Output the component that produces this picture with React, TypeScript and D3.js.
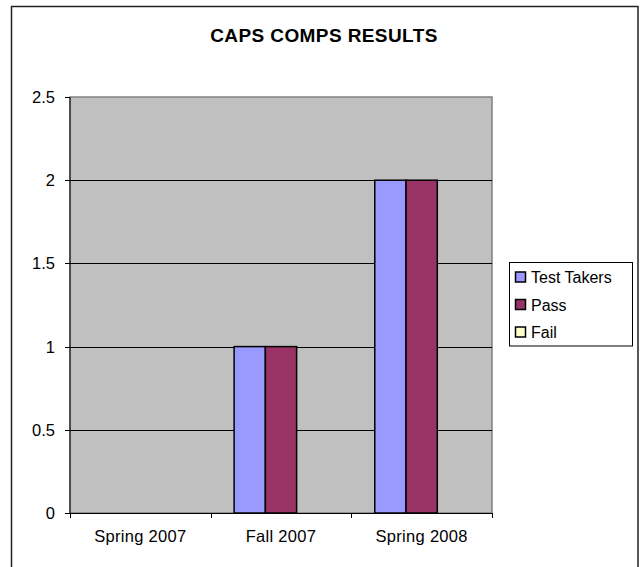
import React from "react";
import * as d3 from "d3";

const categories = ["Spring 2007", "Fall 2007", "Spring 2008"];
const seriesNames = ["Test Takers", "Pass", "Fail"];
const testTakers = [0, 1, 2];
const pass = [0, 1, 2];
const fail = [0, 0, 0];
const seriesColors = ["#9999FF", "#993366", "#FFFFCC"];
const yTicks = [0, 0.5, 1, 1.5, 2, 2.5];
const title = "CAPS COMPS RESULTS";

export default function App() {
  const W = 640, H = 567;
  const left = 70, right = 492, top = 97, bottom = 513;
  const series = [testTakers, pass, fail];

  const x = d3.scaleBand<string>().domain(categories).range([left, right]).paddingInner(0).paddingOuter(0);
  const y = d3.scaleLinear().domain([0, 2.5]).range([bottom, top]);
  const band = x.bandwidth();
  const barW = band / 4.5;
  const groupOffset = (band - barW * 3) / 2;

  const font = "Arial, 'Liberation Sans', sans-serif";

  return (
    <svg width={W} height={H} style={{ position: "absolute", left: 0, top: 0, background: "#fff" }} fontFamily={font}>
      <rect x={11.5} y={6.5} width={626.5} height={570} fill="#fff" stroke="#222" strokeWidth={1.5} />
      <text x={324} y={42} textAnchor="middle" fontWeight="bold" fontSize={19} letterSpacing={0.4}>{title}</text>

      <rect x={left} y={top} width={right - left} height={bottom - top} fill="#C0C0C0" stroke="#808080" strokeWidth={1.5} />
      {yTicks.filter(t => t > 0 && t < 2.5).map(t => (
        <line key={t} x1={left} x2={right} y1={Math.round(y(t)) + 0.5} y2={Math.round(y(t)) + 0.5} stroke="#000" strokeWidth={1} />
      ))}

      {categories.map((c, ci) =>
        series.map((s, si) => {
          const v = s[ci];
          if (v <= 0) return null;
          const bx = (x(c) as number) + groupOffset + si * barW;
          return (
            <rect key={c + si} x={bx} y={y(v)} width={barW} height={bottom - y(v)} fill={seriesColors[si]} stroke="#000" strokeWidth={1.5} />
          );
        })
      )}

      <line x1={left} x2={left} y1={top} y2={bottom} stroke="#000" strokeWidth={1} />
      <line x1={left} x2={right} y1={bottom + 0.5} y2={bottom + 0.5} stroke="#000" strokeWidth={1} />
      {yTicks.map(t => (
        <g key={t}>
          <line x1={left - 5} x2={left} y1={Math.round(y(t)) + 0.5} y2={Math.round(y(t)) + 0.5} stroke="#000" />
          <text x={55} y={y(t) + 6} textAnchor="end" fontSize={16.5}>{String(t)}</text>
        </g>
      ))}
      {[...categories.map(c => x(c) as number), right].map((tx, i) => (
        <line key={i} x1={Math.round(tx) + 0.5} x2={Math.round(tx) + 0.5} y1={bottom} y2={bottom + 5} stroke="#000" />
      ))}
      {categories.map(c => (
        <text key={c} x={(x(c) as number) + band / 2} y={542} textAnchor="middle" fontSize={16.5} letterSpacing={0.3}>{c}</text>
      ))}

      <rect x={509.5} y={262.5} width={123} height={83.5} fill="#fff" stroke="#000" strokeWidth={1} />
      {seriesNames.map((n, i) => {
        const cy = 277 + i * 27.5;
        return (
          <g key={n}>
            <rect x={515.5} y={cy - 5} width={10} height={10} fill={seriesColors[i]} stroke="#000" strokeWidth={1.5} />
            <text x={531} y={cy + 6} fontSize={16}>{n}</text>
          </g>
        );
      })}
    </svg>
  );
}
